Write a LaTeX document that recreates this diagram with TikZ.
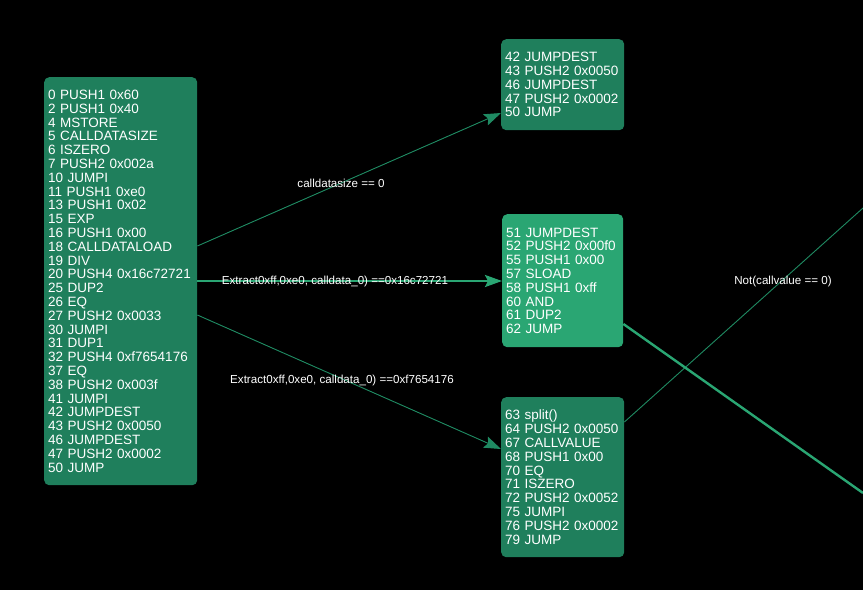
\documentclass[tikz,border=0pt]{standalone}
\usepackage{fontspec}
\setmainfont{Liberation Sans}
\usetikzlibrary{arrows.meta}
\definecolor{blockdark}{HTML}{1F7F5C}
\definecolor{blocklight}{HTML}{2AA673}
\definecolor{edgedark}{HTML}{1F8A62}
\tikzset{
  block/.style={anchor=north west, rounded corners=5pt, text=white, align=left,
    inner xsep=4pt, inner ysep=0pt, font=\fontsize{13.5}{13.8}\selectfont},
  thinedge/.style={draw=edgedark, line width=0.9pt},
  thickedge/.style={draw=blocklight, line width=2.4pt},
  tip/.style={-{Stealth[length=17pt,width=12pt,inset=3pt]}},
  elabel/.style={text=white, font=\fontsize{11.6}{13}\selectfont, inner sep=0pt},
}
\begin{document}
\begin{tikzpicture}[x=1pt,y=-1pt]
  \fill[black] (0,0) rectangle (863,590);
  \useasboundingbox (0,0) rectangle (863,590);
  \clip (0,0) rectangle (863,590);

  % basic blocks
  \node[block, fill=blockdark, text width=145pt, minimum height=408pt] (entry) at (44,77) {%
    0 PUSH1 0x60\\2 PUSH1 0x40\\4 MSTORE\\5 CALLDATASIZE\\6 ISZERO\\7 PUSH2 0x002a\\10 JUMPI\\%
    11 PUSH1 0xe0\\13 PUSH1 0x02\\15 EXP\\16 PUSH1 0x00\\18 CALLDATALOAD\\19 DIV\\%
    20 PUSH4 0x16c72721\\25 DUP2\\26 EQ\\27 PUSH2 0x0033\\30 JUMPI\\31 DUP1\\%
    32 PUSH4 0xf7654176\\37 EQ\\38 PUSH2 0x003f\\41 JUMPI\\42 JUMPDEST\\%
    43 PUSH2 0x0050\\46 JUMPDEST\\47 PUSH2 0x0002\\50 JUMP};
  \node[block, fill=blockdark, text width=115pt, minimum height=91pt] (fallback) at (501,39) {%
    42 JUMPDEST\\43 PUSH2 0x0050\\46 JUMPDEST\\47 PUSH2 0x0002\\50 JUMP};
  \node[block, fill=blocklight, text width=113pt, minimum height=133pt] (fnA) at (502,214) {%
    51 JUMPDEST\\52 PUSH2 0x00f0\\55 PUSH1 0x00\\57 SLOAD\\58 PUSH1 0xff\\60 AND\\61 DUP2\\62 JUMP};
  \node[block, fill=blockdark, text width=115pt, minimum height=160pt] (fnB) at (501,397) {%
    63 split()\\64 PUSH2 0x0050\\67 CALLVALUE\\68 PUSH1 0x00\\70 EQ\\71 ISZERO\\%
    72 PUSH2 0x0052\\75 JUMPI\\76 PUSH2 0x0002\\79 JUMP};

  % targets beyond the visible area
  \coordinate (outA) at (863,208);
  \coordinate (outB) at (863,493);

  % edges
  \draw[thinedge, tip, fill=edgedark] (entry.east |- 0,246) -- (fallback.west |- 0,113);
  \draw[thickedge, tip, fill=blocklight] (entry.east |- 0,281) -- (fnA.west |- 0,281);
  \draw[thinedge, tip, fill=edgedark] (entry.east |- 0,315) -- (fnB.west |- 0,449);
  \draw[thinedge] (fnB.east |- 0,422) -- (outA);
  \draw[thickedge] (fnA.east |- 0,324) -- (outB);

  % edge labels
  \node[elabel] (l1) at (341,183) {calldatasize == 0};
  \node[elabel] (l2) at (335,281) {Extract0xff,0xe0, calldata\_0) ==0x16c72721};
  \node[elabel] (l3) at (342,380) {Extract0xff,0xe0, calldata\_0) ==0xf7654176};
  \node[elabel] (l4) at (783,281) {Not(callvalue == 0)};
\end{tikzpicture}
\end{document}
